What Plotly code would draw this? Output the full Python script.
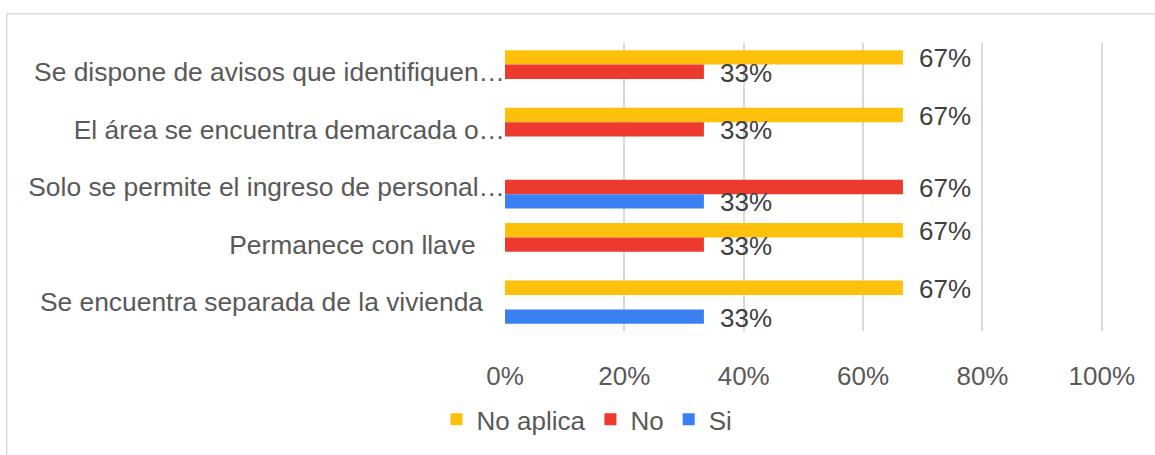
import plotly.graph_objects as go

# Category labels (top to bottom) and the share of answers per option, in %
categorias = [
    "Se dispone de avisos que identifiquen…",
    "El área se encuentra demarcada o…",
    "Solo se permite el ingreso de personal…",
    "Permanece con llave\u00a0\u00a0\u00a0\u00a0",
    "Se encuentra separada de la vivienda\u00a0\u00a0\u00a0",
]
no_aplica = [66.67, 66.67, 0, 66.67, 66.67]
no = [33.33, 33.33, 66.67, 33.33, 0]
si = [0, 0, 33.33, 0, 33.33]

series = [
    ("No aplica", no_aplica, "#FDC00B"),
    ("No", no, "#EC3A2F"),
    ("Si", si, "#3B80F2"),
]

x_ticks = [0, 20, 40, 60, 80, 100]

W, H = 1155, 455
L, R, T, B = 505, 52, 43, 119
PW, PH = W - L - R, H - T - B

FONT = "Liberation Sans, Arial, sans-serif"
TXT = "#595959"

fig = go.Figure()
for name, vals, color in series:
    fig.add_trace(go.Bar(
        name=name,
        y=list(range(len(categorias))),
        x=vals,
        orientation="h",
        marker=dict(color=color, line=dict(width=0)),
        hoverinfo="skip",
    ))

# value labels beside each non-zero bar
BAR_W = 0.25
n = len(series)
annotations = []
for i, (name, vals, color) in enumerate(series):
    offset = (i - (n - 1) / 2) * BAR_W
    for j, v in enumerate(vals):
        if v <= 0:
            continue
        annotations.append(dict(
            x=v, y=j + offset, xref="x", yref="y",
            text=f"{round(v)}%", showarrow=False,
            xanchor="left", yanchor="middle", xshift=14, yshift=-1,
            font=dict(family=FONT, size=26, color="#404040"),
        ))

# chart frame (only left and top edges fall inside the canvas)
frame = dict(
    type="rect", xref="paper", yref="paper",
    x0=(6.7 - L) / PW, x1=(W + 20 - L) / PW,
    y0=-(B + 20) / PH, y1=(H - B - 13.3) / PH,
    line=dict(color="#D9D9D9", width=1.5), fillcolor="rgba(0,0,0,0)",
    layer="below",
)

fig.update_layout(
    width=W, height=H,
    margin=dict(l=L, r=R, t=T, b=B, pad=0),
    paper_bgcolor="white", plot_bgcolor="white",
    barmode="group", bargap=0.25, bargroupgap=0,
    font=dict(family=FONT, size=26, color=TXT),
    showlegend=True,
    legend=dict(
        orientation="h", x=(587 - L) / PW, xanchor="center",
        y=-(426 - (H - B)) / PH, yanchor="middle",
        font=dict(family=FONT, size=26, color=TXT),
        itemwidth=30, traceorder="normal",
        bgcolor="rgba(0,0,0,0)",
    ),
    annotations=annotations,
    shapes=[frame],
    xaxis=dict(
        range=[0, 100.2], tickvals=x_ticks, ticktext=[f"{t}%" for t in x_ticks],
        showgrid=True, gridcolor="#D9D9D9", gridwidth=1.5,
        zeroline=False, showline=False, ticks="",
        ticklabelstandoff=27,
        tickfont=dict(family=FONT, size=26, color=TXT),
        fixedrange=True,
    ),
    yaxis=dict(
        tickvals=list(range(len(categorias))), ticktext=categorias,
        range=[len(categorias) - 0.5, -0.5],
        showgrid=False, zeroline=False, showline=False, ticks="",
        ticklabelstandoff=-1,
        tickfont=dict(family=FONT, size=26.4, color=TXT),
        fixedrange=True,
    ),
)

fig.write_html("out.html")
